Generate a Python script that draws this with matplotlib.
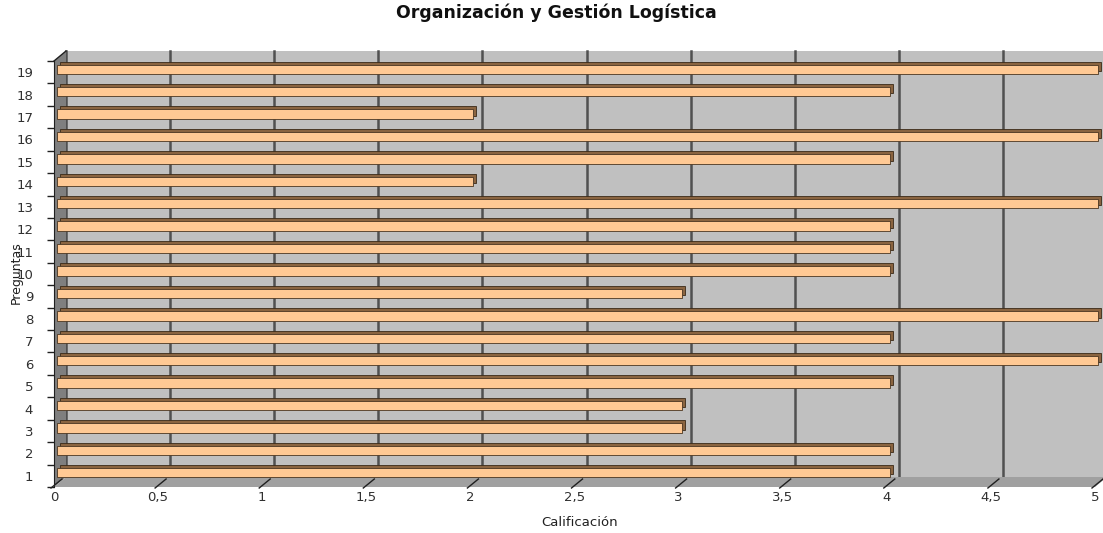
import matplotlib
matplotlib.use('Agg')
import matplotlib.pyplot as plt
import numpy as np
from matplotlib.patches import Polygon
from matplotlib.lines import Line2D
from matplotlib.transforms import ScaledTranslation

plt.rcParams['font.family'] = ['DejaVu Sans']

preguntas = list(range(1, 20))
calificacion = [4, 4, 3, 3, 4, 5, 4, 5, 3, 4, 4, 4, 5, 2, 4, 5, 2, 4, 5]
xticks = np.arange(0, 5.01, 0.5)
xlabels = ['0', '0,5', '1', '1,5', '2', '2,5', '3', '3,5', '4', '4,5', '5']

W, H, DPI = 1103, 533, 100
DX, DY = 12, 10  # depth offset of the back wall, px

fig = plt.figure(figsize=(W / DPI, H / DPI), dpi=DPI)
ax = fig.add_axes([54 / W, 1 - 487 / H, (1095 - 54) / W, (487 - 61) / H])
ax.set_xlim(0, 5)
ax.set_ylim(0.5, 19.5)
ax.patch.set_visible(False)
for s in ax.spines.values():
    s.set_visible(False)


def off(px, py):
    return ax.transData + ScaledTranslation(px / DPI, py / DPI, fig.dpi_scale_trans)


def pix(x, y, px=0, py=0):
    X, Y = ax.transData.transform((x, y))
    return ((X + px) / W, (Y + py) / H)


def poly(pts, color, z):
    ax.add_patch(Polygon(pts, closed=True, facecolor=color, edgecolor='none',
                         transform=fig.transFigure, zorder=z, clip_on=False))


# back wall + gridlines
poly([pix(0, 0.5, DX, DY), pix(5, 0.5, DX, DY), pix(5, 19.5, DX, DY), pix(0, 19.5, DX, DY)],
     '#c0c0c0', 0)
for x in xticks:
    ax.plot([x, x], [0.5, 19.5], color='#505050', lw=1.8, transform=off(DX, DY),
            clip_on=False, zorder=1)
# left wall and floor
poly([pix(0, 0.5), pix(0, 19.5), pix(0, 19.5, DX, DY), pix(0, 0.5, DX, DY)], '#7f7f7f', 2)
poly([pix(0, 0.5), pix(5, 0.5), pix(5, 0.5, DX, DY), pix(0, 0.5, DX, DY)], '#a0a0a0', 2)

# bars: darker depth part behind, light face in front
ax.barh(preguntas, calificacion, height=0.42, left=0, color='#8a6440', edgecolor='#3a2a18',
        linewidth=0.6, transform=off(6, 6), zorder=3, clip_on=False)
ax.barh(preguntas, calificacion, height=0.42, left=0, color='#ffc994', edgecolor='#4a3520',
        linewidth=0.6, transform=off(3, 3), zorder=4, clip_on=False)

# diagonal tick marks on the floor edge
for x in xticks:
    x0, y0 = pix(x, 0.5, -3, -1)
    ax.add_line(Line2D([x0, x0 + 11 / W], [y0, y0 + 9 / H], color='#202020', lw=1.0,
                       transform=fig.transFigure, zorder=5, clip_on=False))
x0, y0 = pix(0, 19.5, 0, 0)
ax.add_line(Line2D([x0, x0 + DX / W], [y0, y0 + DY / H], color='#202020', lw=1.0,
                   transform=fig.transFigure, zorder=5, clip_on=False))

ax.set_xticks(xticks)
ax.set_xticklabels(xlabels, fontsize=9.5, color='#303030')
ax.tick_params(axis='x', length=0, pad=3)
ax.set_yticks(preguntas)
ax.set_yticklabels([str(p) for p in preguntas], fontsize=9.5, color='#303030')
ax.set_yticks(np.arange(0.5, 19.6, 1), minor=True)
ax.tick_params(axis='y', which='major', length=0, pad=15)
ax.tick_params(axis='y', which='minor', length=5, width=1, color='#202020')
ax.spines['left'].set_visible(True)
ax.spines['left'].set_color('#202020')
ax.spines['left'].set_linewidth(0.8)

fig.text(580 / W, 1 - 523 / H, 'Calificación', fontsize=9.5, color='#202020',
         ha='center', va='center')
fig.text(16 / W, 1 - 273 / H, 'Preguntas', rotation=90, fontsize=9, color='#202020',
         ha='center', va='center')
fig.text(556 / W, 1 - 13 / H, 'Organización y Gestión Logística', fontsize=12.5,
         fontweight='bold', color='#101010', ha='center', va='center')

fig.savefig('out.png', dpi=DPI)
